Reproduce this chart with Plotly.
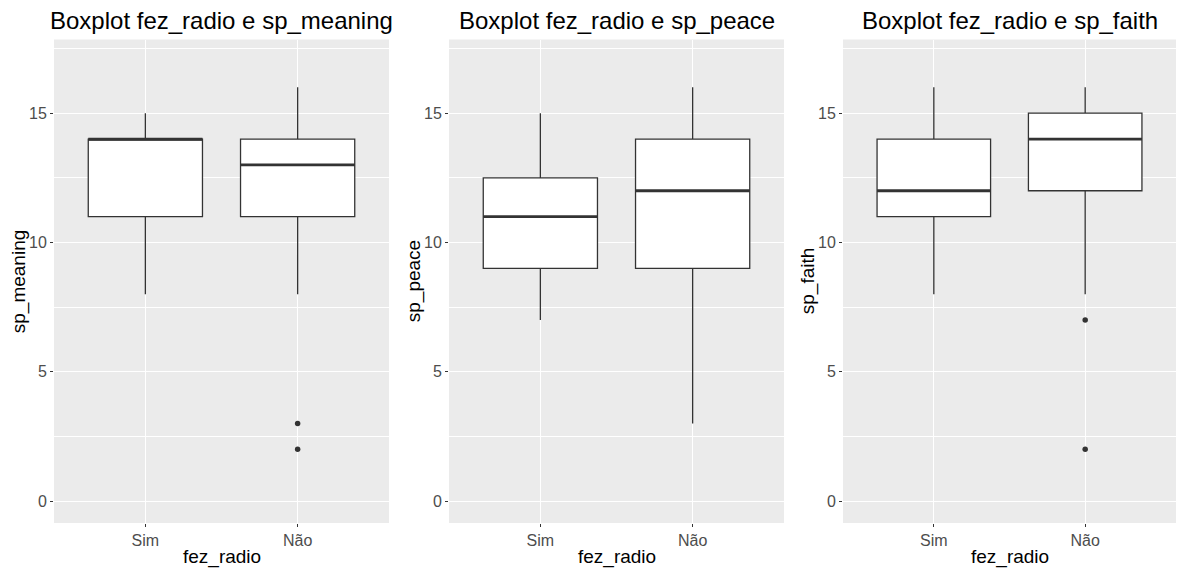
import plotly.graph_objects as go

# ---------------- data ----------------
categories = ["Sim", "Não"]
cat_pos = [1, 2]

panel_vars = ["sp_meaning", "sp_peace", "sp_faith"]
group_var = "fez_radio"

meaning_lower = [8, 8]
meaning_q1 = [11, 11]
meaning_median = [14, 13]
meaning_q3 = [14, 14]
meaning_upper = [15, 16]
meaning_outliers_nao = [3, 2]

peace_lower = [7, 3]
peace_q1 = [9, 9]
peace_median = [11, 12]
peace_q3 = [12.5, 14]
peace_upper = [15, 16]
peace_outliers_nao = []

faith_lower = [8, 8]
faith_q1 = [11, 12]
faith_median = [12, 14]
faith_q3 = [14, 15]
faith_upper = [16, 16]
faith_outliers_nao = [7, 2]

y_ticks = [0, 5, 10, 15]

# ---------------- style ----------------
W, H = 1178, 571
BOX_W = 0.75
PANEL_BG = "#EBEBEB"
LINE = "#333333"
panel_px = [(54, 389), (449, 784), (843, 1176)]
top_px, bot_px = 39.5, 523
y_range = [-0.85, 17.85]

stats = [
    (meaning_lower, meaning_q1, meaning_median, meaning_q3, meaning_upper, meaning_outliers_nao),
    (peace_lower, peace_q1, peace_median, peace_q3, peace_upper, peace_outliers_nao),
    (faith_lower, faith_q1, faith_median, faith_q3, faith_upper, faith_outliers_nao),
]

fig = go.Figure()
layout = dict(
    width=W, height=H,
    margin=dict(l=0, r=0, t=0, b=0),
    paper_bgcolor="white",
    plot_bgcolor=PANEL_BG,
    showlegend=False,
    font=dict(family="Liberation Sans, Arial, sans-serif"),
)
annotations = []

for i, (var, (lo, q1, med, q3, up, outl)) in enumerate(zip(panel_vars, stats)):
    sfx = "" if i == 0 else str(i + 1)
    xa, ya = "x" + sfx, "y" + sfx
    x0, x1 = panel_px[i]
    dom_x = [x0 / W, x1 / W]
    dom_y = [1 - bot_px / H, 1 - top_px / H]

    fig.add_trace(go.Box(
        x=cat_pos, q1=q1, median=med, q3=q3, lowerfence=lo, upperfence=up,
        width=BOX_W, whiskerwidth=0, boxpoints=False,
        fillcolor="white", line=dict(color=LINE, width=1.3),
        xaxis=xa, yaxis=ya, hoverinfo="skip",
    ))
    # thicker median line (ggplot fatten)
    mx, my = [], []
    for p, m in zip(cat_pos, med):
        mx += [p - BOX_W / 2, p + BOX_W / 2, None]
        my += [m, m, None]
    fig.add_trace(go.Scatter(
        x=mx, y=my, mode="lines", line=dict(color=LINE, width=2.8),
        xaxis=xa, yaxis=ya, hoverinfo="skip",
    ))
    if outl:
        fig.add_trace(go.Scatter(
            x=[cat_pos[1]] * len(outl), y=outl, mode="markers",
            marker=dict(color=LINE, size=5.5),
            xaxis=xa, yaxis=ya, hoverinfo="skip",
        ))

    layout["xaxis" + sfx] = dict(
        domain=dom_x, anchor=ya, range=[0.4, 2.6],
        tickmode="array", tickvals=cat_pos, ticktext=categories,
        showgrid=True, gridcolor="white", gridwidth=1.2,
        zeroline=False, showline=False,
        ticks="outside", ticklen=3, tickcolor=LINE, tickwidth=1,
        tickfont=dict(size=16, color="#4D4D4D"),
        fixedrange=True,
    )
    layout["yaxis" + sfx] = dict(
        domain=dom_y, anchor=xa, range=y_range,
        tickmode="array", tickvals=y_ticks,
        showgrid=True, gridcolor="white", gridwidth=1.2,
        minor=dict(dtick=2.5, tick0=0, showgrid=True, gridcolor="white", gridwidth=0.6, ticks=""),
        zeroline=False, showline=False,
        ticks="outside", ticklen=3, tickcolor=LINE, tickwidth=1,
        tickfont=dict(size=16, color="#4D4D4D"),
        fixedrange=True,
    )

    cx = (x0 + x1) / 2 / W
    annotations.append(dict(
        text="Boxplot %s e %s" % (group_var, var), x=cx, y=1 - 20 / H,
        xref="paper", yref="paper", xanchor="center", yanchor="middle",
        showarrow=False, font=dict(size=24, color="black"),
    ))
    annotations.append(dict(
        text=group_var, x=cx, y=1 - 557 / H,
        xref="paper", yref="paper", xanchor="center", yanchor="middle",
        showarrow=False, font=dict(size=19, color="black"),
    ))
    annotations.append(dict(
        text=var, x=(x0 - 35) / W, y=1 - ((top_px + bot_px) / 2) / H,
        xref="paper", yref="paper", xanchor="center", yanchor="middle",
        textangle=-90, showarrow=False, font=dict(size=19, color="black"),
    ))

layout["annotations"] = annotations
fig.update_layout(**layout)
fig.write_html("out.html", config={"displayModeBar": False})

# remove the default page margin so the figure sits at the window's top-left
with open("out.html", encoding="utf-8") as f:
    html = f.read()
html = html.replace("<head>", "<head><style>html,body{margin:0;padding:0;overflow:hidden;}</style>", 1)
with open("out.html", "w", encoding="utf-8") as f:
    f.write(html)
